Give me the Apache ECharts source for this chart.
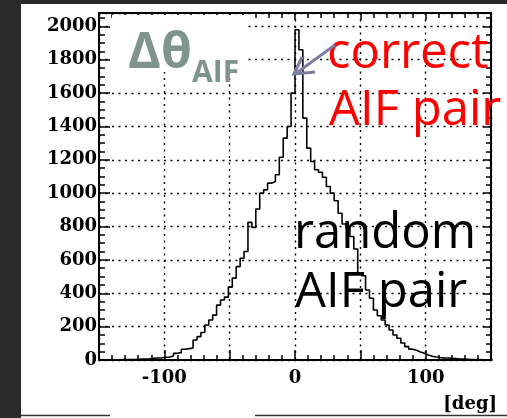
<!DOCTYPE html>
<html>
<head>
<meta charset="utf-8">
<script src="https://cdn.jsdelivr.net/npm/echarts@6/dist/echarts.min.js"></script>
<style>
  html, body { margin: 0; padding: 0; }
  body { width: 507px; height: 418px; background: #2a2a2a; position: relative; overflow: hidden; }
  #sheet { position: absolute; left: 21px; top: 4px; width: 486px; height: 414px; background: #fff; }
  #chart { position: absolute; left: 0; top: 0; width: 507px; height: 418px; }
</style>
</head>
<body>
<div id="sheet"></div>
<div id="chart"></div>
<script>
// Histogram of the opening-angle difference, 3-degree bins from -150 to 150
const binStart = -150;
const binWidth = 3;
const counts = [
  0, 0, 1, 1, 1, 2, 2, 3, 3, 4,            // -150 .. -123
  5, 6, 7, 10, 12, 13, 16, 18, 24, 40,     // -120 .. -93
  44, 64, 68, 72, 120, 140, 165, 210, 240, 269, // -90 .. -63
  329, 360, 377, 437, 491, 560, 610, 650, 825, 795, // -60 .. -33
  905, 1000, 1020, 1060, 1070, 1110, 1215, 1330, 1400, 1600, // -30 .. -3
  1980,                                    // -3 .. 0
  1860, 1450, 1270, 1190, 1140, 1125, 1095, 1040, 1000, 955, // 0 .. 27
  880, 815, 790, 740, 665, 521, 505, 420, 370, 300,          // 30 .. 57
  265, 240, 210, 180, 150, 130, 102, 80, 65, 58,             // 60 .. 87
  48, 40, 30, 22, 18, 15, 13, 12, 10, 8,                     // 90 .. 117
  6, 5, 4, 3, 2, 2, 1, 1, 0, 0                               // 120 .. 147
];
const xTickLabels = ['-100', '0', '100'];
const yTickLabels = ['0', '200', '400', '600', '800', '1000', '1200', '1400', '1600', '1800', '2000'];

// step points: left edge of each bin, closed at the right end of the range
const histPoints = counts.map((c, i) => [binStart + i * binWidth, c]);
histPoints.push([binStart + counts.length * binWidth, counts[counts.length - 1]]);

const labelFont = { fontFamily: 'DejaVu Serif', fontWeight: 'bold', fontSize: 18, color: '#000' };
const dotted = { show: true, lineStyle: { color: '#000', width: 1.4, type: [2, 4.5] } };
const frameLine = { show: true, onZero: false, lineStyle: { color: '#000', width: 2 } };

const chart = echarts.init(document.getElementById('chart'), null, { renderer: 'canvas' });
chart.setOption({
  animation: false,
  backgroundColor: 'transparent',
  grid: { left: 99, right: 16, top: 13, bottom: 58, containLabel: false },
  xAxis: [
    {
      type: 'value', min: -150, max: 150, interval: 50, position: 'bottom',
      axisLine: frameLine,
      axisTick: { show: true, inside: true, length: 10, lineStyle: { color: '#000', width: 1.5 } },
      minorTick: { show: true, splitNumber: 5, length: 5, lineStyle: { color: '#000', width: 1.5 } },
      axisLabel: Object.assign({ margin: 9, formatter: v => xTickLabels.includes(String(v)) ? String(v) : '' }, labelFont),
      splitLine: dotted
    },
    {
      type: 'value', min: -150, max: 150, interval: 50, position: 'top',
      axisLine: frameLine,
      axisTick: { show: true, inside: true, length: 7, lineStyle: { color: '#000', width: 1.5 } },
      minorTick: { show: true, splitNumber: 5, length: 5, lineStyle: { color: '#000', width: 1.5 } },
      axisLabel: { show: false },
      splitLine: { show: false }
    }
  ],
  yAxis: [
    {
      type: 'value', min: 0, max: 2080, interval: 200, position: 'left',
      axisLine: frameLine,
      axisTick: { show: true, inside: true, length: 11, lineStyle: { color: '#000', width: 1.5 } },
      minorTick: { show: true, splitNumber: 4, length: 6, lineStyle: { color: '#000', width: 1.5 } },
      axisLabel: Object.assign({ margin: 2, showMaxLabel: false, formatter: v => yTickLabels.includes(String(v)) ? String(v) : '' }, labelFont),
      splitLine: dotted
    },
    {
      type: 'value', min: 0, max: 2080, interval: 200, position: 'right',
      axisLine: frameLine,
      axisTick: { show: true, inside: true, length: 8, lineStyle: { color: '#000', width: 1.5 } },
      minorTick: { show: true, splitNumber: 4, length: 5, lineStyle: { color: '#000', width: 1.5 } },
      axisLabel: { show: false },
      splitLine: { show: false }
    }
  ],
  series: [{
    type: 'line',
    xAxisIndex: 0, yAxisIndex: 0,
    step: 'end',
    data: histPoints,
    showSymbol: false,
    lineStyle: { color: '#000', width: 1.6 },
    z: 3
  }],
  graphic: [
    // blank box behind the angle symbol
    { type: 'rect', z: 5, shape: { x: 112, y: 15, width: 136, height: 57 }, style: { fill: '#fff' } },
    { type: 'text', z: 6, x: 128, y: 54, style: { text: 'Δθ', font: 'bold 50px "Open Sans"', fill: '#7f958b', verticalAlign: 'middle', align: 'left' } },
    { type: 'text', z: 6, x: 192, y: 73, style: { text: 'AIF', font: 'bold 30px "Open Sans"', fill: '#7f958b', verticalAlign: 'middle', align: 'left' } },
    // labels of the two components
    { type: 'text', z: 6, x: 327, y: 54, style: { text: 'correct', font: '49px "Open Sans"', fill: '#ff0000', verticalAlign: 'middle', align: 'left' } },
    { type: 'text', z: 6, x: 329, y: 111, style: { text: 'AIF pair', font: '49px "Open Sans"', fill: '#ff0000', verticalAlign: 'middle', align: 'left' } },
    { type: 'text', z: 6, x: 294, y: 234, style: { text: 'random', font: '49px "Open Sans"', fill: '#000', verticalAlign: 'middle', align: 'left' } },
    { type: 'text', z: 6, x: 295, y: 293, style: { text: 'AIF pair', font: '49px "Open Sans"', fill: '#000', verticalAlign: 'middle', align: 'left' } },
    // pointer to the peak
    { type: 'line', z: 7, shape: { x1: 335, y1: 45, x2: 295, y2: 74 }, style: { stroke: '#7d7d9d', lineWidth: 3 } },
    { type: 'polyline', z: 7, shape: { points: [[302, 57], [294, 74], [315, 72]] }, style: { stroke: '#7d7d9d', lineWidth: 3, fill: null } },
    // unit label
    { type: 'text', z: 6, x: 497, y: 395, style: { text: '[deg]', font: 'bold 18px "DejaVu Serif"', fill: '#000', verticalAlign: 'top', align: 'right' } },
    // rules along the bottom edge
    { type: 'line', z: 1, shape: { x1: 21, y1: 415.5, x2: 110, y2: 415.5 }, style: { stroke: '#333', lineWidth: 1.5 } },
    { type: 'line', z: 1, shape: { x1: 255, y1: 415.5, x2: 507, y2: 415.5 }, style: { stroke: '#333', lineWidth: 1.5 } }
  ]
});
</script>
</body>
</html>
